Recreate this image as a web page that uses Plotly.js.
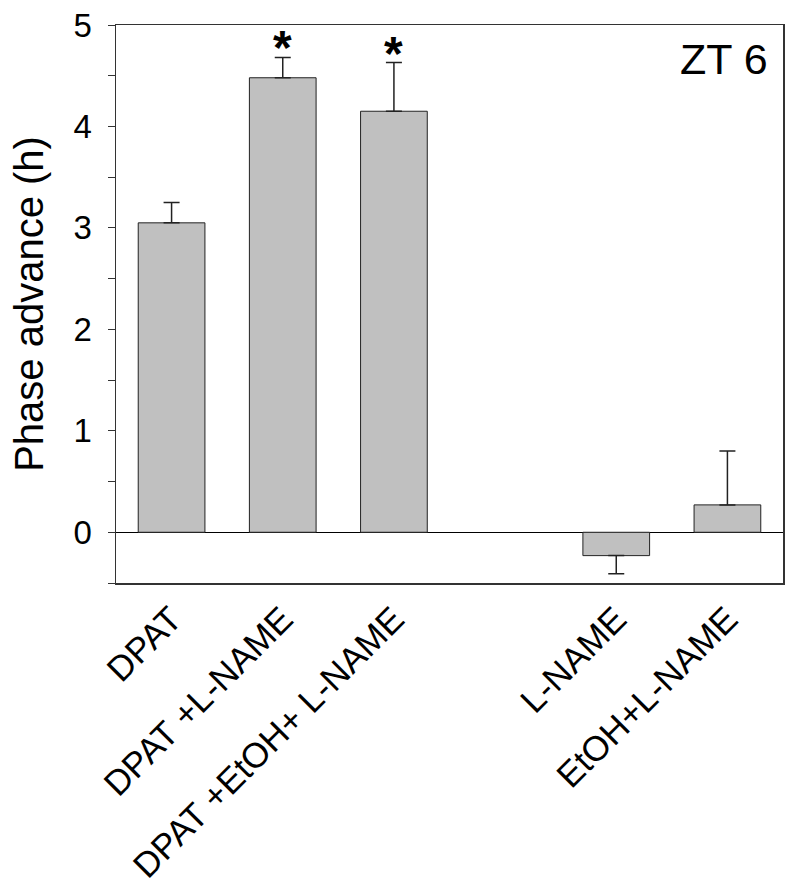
<!DOCTYPE html>
<html>
<head>
<meta charset="utf-8">
<script src="https://cdn.plot.ly/plotly-3.0.1.min.js"></script>
<style>
  html, body { margin: 0; padding: 0; background: #fff; }
  #chart { width: 800px; height: 888px; }
</style>
</head>
<body>
<div id="chart"></div>
<script>
// groups on the x axis (slot 3 is left empty as a gap)
var positions = [0, 1, 2, 4, 5];
var labels = ['DPAT', 'DPAT +L-NAME', 'DPAT +EtOH+ L-NAME', 'L-NAME', 'EtOH+L-NAME'];

// phase advance (h), mean and one-sided SEM
var means = [3.05, 4.48, 4.15, -0.23, 0.27];
var errUp = [0.20, 0.20, 0.48, 0, 0.53];
var errDown = [0, 0, 0, 0.18, 0];

// significance markers
var starred = [1, 2];

var yTicks = [0, 1, 2, 3, 4, 5];

var font = 'Liberation Sans, Arial, sans-serif';

function onLoad() {
  var bars = {
    type: 'bar',
    x: positions,
    y: means,
    width: 0.6,
    marker: {
      color: '#c0c0c0',
      line: { color: '#222', width: 1 }
    },
    error_y: {
      type: 'data',
      symmetric: false,
      array: errUp,
      arrayminus: errDown,
      color: '#222',
      thickness: 1.5,
      width: 8
    },
    hoverinfo: 'none'
  };

  // asterisks sit just above the error bar caps
  var notes = starred.map(function (i) {
    return {
      x: positions[i],
      y: means[i] + errUp[i],
      xref: 'x', yref: 'y',
      text: '*',
      showarrow: false,
      yanchor: 'bottom',
      yshift: -19,
      font: { family: font, size: 48, color: '#000', weight: 'bold' }
    };
  });

  notes.push({
    x: 0.98, y: 0.985,
    xref: 'paper', yref: 'paper',
    xanchor: 'right', yanchor: 'top',
    text: 'ZT 6',
    showarrow: false,
    font: { family: font, size: 43, color: '#000' }
  });

  var layout = {
    width: 800,
    height: 888,
    margin: { l: 116, r: 17, t: 25, b: 305 },
    paper_bgcolor: '#fff',
    plot_bgcolor: '#fff',
    showlegend: false,
    font: { family: font, color: '#000' },
    xaxis: {
      range: [-0.5, 5.5],
      tickvals: positions,
      ticktext: labels,
      tickangle: -45,
      tickfont: { family: font, size: 35, color: '#000' },
      ticks: '',
      showgrid: false,
      zeroline: false,
      showline: true,
      mirror: true,
      linecolor: '#333',
      linewidth: 1.5,
      ticklabelstandoff: 0
    },
    yaxis: {
      range: [-0.5, 5],
      tickvals: yTicks,
      ticks: 'outside',
      ticklen: 7,
      tickwidth: 1,
      tickcolor: '#333',
      minor: { dtick: 0.5, ticks: 'outside', ticklen: 7, tickcolor: '#333', tickwidth: 1 },
      tickfont: { family: font, size: 33, color: '#000' },
      ticklabelstandoff: 9,
      showgrid: false,
      zeroline: true,
      zerolinecolor: '#000',
      zerolinewidth: 1.5,
      showline: true,
      mirror: true,
      linecolor: '#333',
      linewidth: 1.5,
      title: {
        text: 'Phase advance (h)',
        font: { family: font, size: 40, color: '#000' },
        standoff: 17
      }
    },
    annotations: notes
  };

  Plotly.newPlot('chart', [bars], layout, { displayModeBar: false, staticPlot: true });
}

onLoad();
</script>
</body>
</html>
